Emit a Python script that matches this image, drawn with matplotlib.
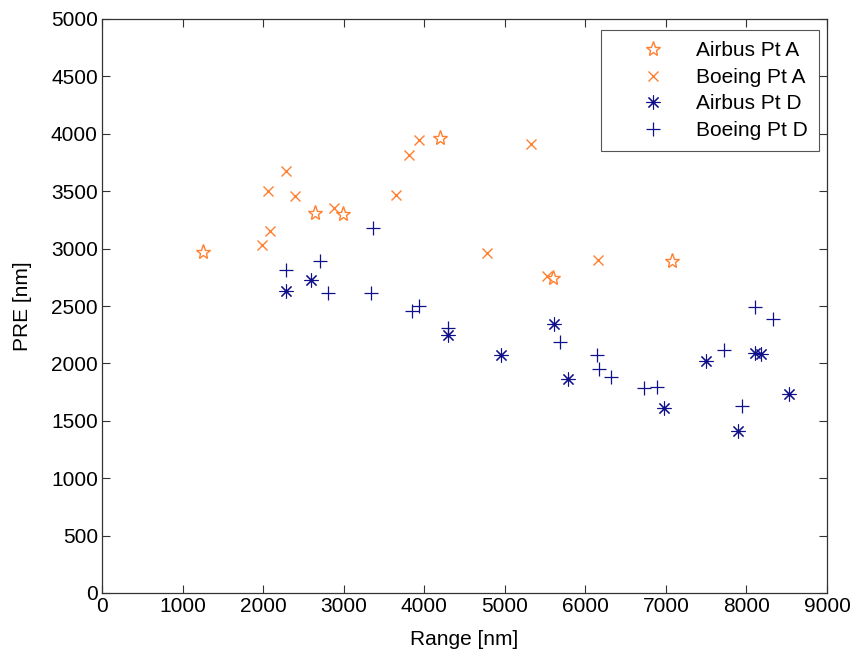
import matplotlib
matplotlib.use("Agg")
import matplotlib.pyplot as plt

# Airbus / Boeing PRE vs range, points A and D
airbus_a_range = [1250, 2650, 2990, 4200, 5600, 7070]
airbus_a_pre = [2970, 3310, 3300, 3960, 2740, 2890]

boeing_a_range = [2060, 2290, 2390, 2090, 1990, 2880, 3650, 3810, 3940, 5320, 4780, 5530, 6160]
boeing_a_pre = [3500, 3680, 3460, 3150, 3030, 3350, 3470, 3815, 3950, 3910, 2965, 2765, 2900]

airbus_d_range = [2290, 2590, 4300, 4950, 5610, 5780, 6980, 7500, 7900, 8100, 8180, 8530]
airbus_d_pre = [2635, 2725, 2250, 2075, 2345, 1860, 1615, 2025, 1410, 2090, 2080, 1735]

boeing_d_range = [2290, 2700, 2800, 3340, 3370, 3850, 3930, 4300, 5680, 6150,
                  6170, 6320, 6730, 6890, 7720, 8110, 8330, 7940]
boeing_d_pre = [2810, 2890, 2615, 2610, 3180, 2460, 2500, 2310, 2185, 2075,
                1950, 1885, 1785, 1795, 2120, 2490, 2390, 1630]

ORANGE = "#ff8030"
NAVY = "#10108a"

plt.rcParams["font.family"] = ["Liberation Sans", "DejaVu Sans"]
plt.rcParams["font.size"] = 15

fig = plt.figure(figsize=(8.56, 6.52), dpi=100)
ax = fig.add_axes([102 / 856, 59 / 652, 725 / 856, 574 / 652])

ax.plot(airbus_a_range, airbus_a_pre, ls="none", marker="*", ms=11,
        mfc="none", mec=ORANGE, mew=1.0, label="Airbus Pt A")
ax.plot(boeing_a_range, boeing_a_pre, ls="none", marker="x", ms=6.5,
        color=ORANGE, mew=1.0, label="Boeing Pt A")
ax.plot(airbus_d_range, airbus_d_pre, ls="none", marker=(8, 2, 0), ms=10,
        color=NAVY, mew=0.8, label="Airbus Pt D")
ax.plot(boeing_d_range, boeing_d_pre, ls="none", marker="+", ms=9.5,
        color=NAVY, mew=0.9, label="Boeing Pt D")

ax.set_xlim(0, 9000)
ax.set_ylim(0, 5000)
ax.set_xticks(range(0, 9001, 1000))
ax.set_yticks(range(0, 5001, 500))
ax.tick_params(direction="in", top=True, right=True, length=6, width=0.8,
               colors="#333333", labelcolor="black", labelsize=15, pad=3)
for s in ax.spines.values():
    s.set_color("#333333")
    s.set_linewidth(0.9)

ax.set_xlabel("Range [nm]", fontsize=15, labelpad=10)
ax.set_ylabel("PRE [nm]", fontsize=15, labelpad=14)

leg = ax.legend(loc="upper right", bbox_to_anchor=(819 / 856, 1 - 30 / 652),
                bbox_transform=fig.transFigure, borderaxespad=0,
                fontsize=15, fancybox=False, framealpha=1, edgecolor="#555555",
                handletextpad=0.1, handlelength=3.9, labelspacing=0.36,
                borderpad=0.55)
leg.get_frame().set_linewidth(0.8)

fig.savefig("out.png", dpi=100)
